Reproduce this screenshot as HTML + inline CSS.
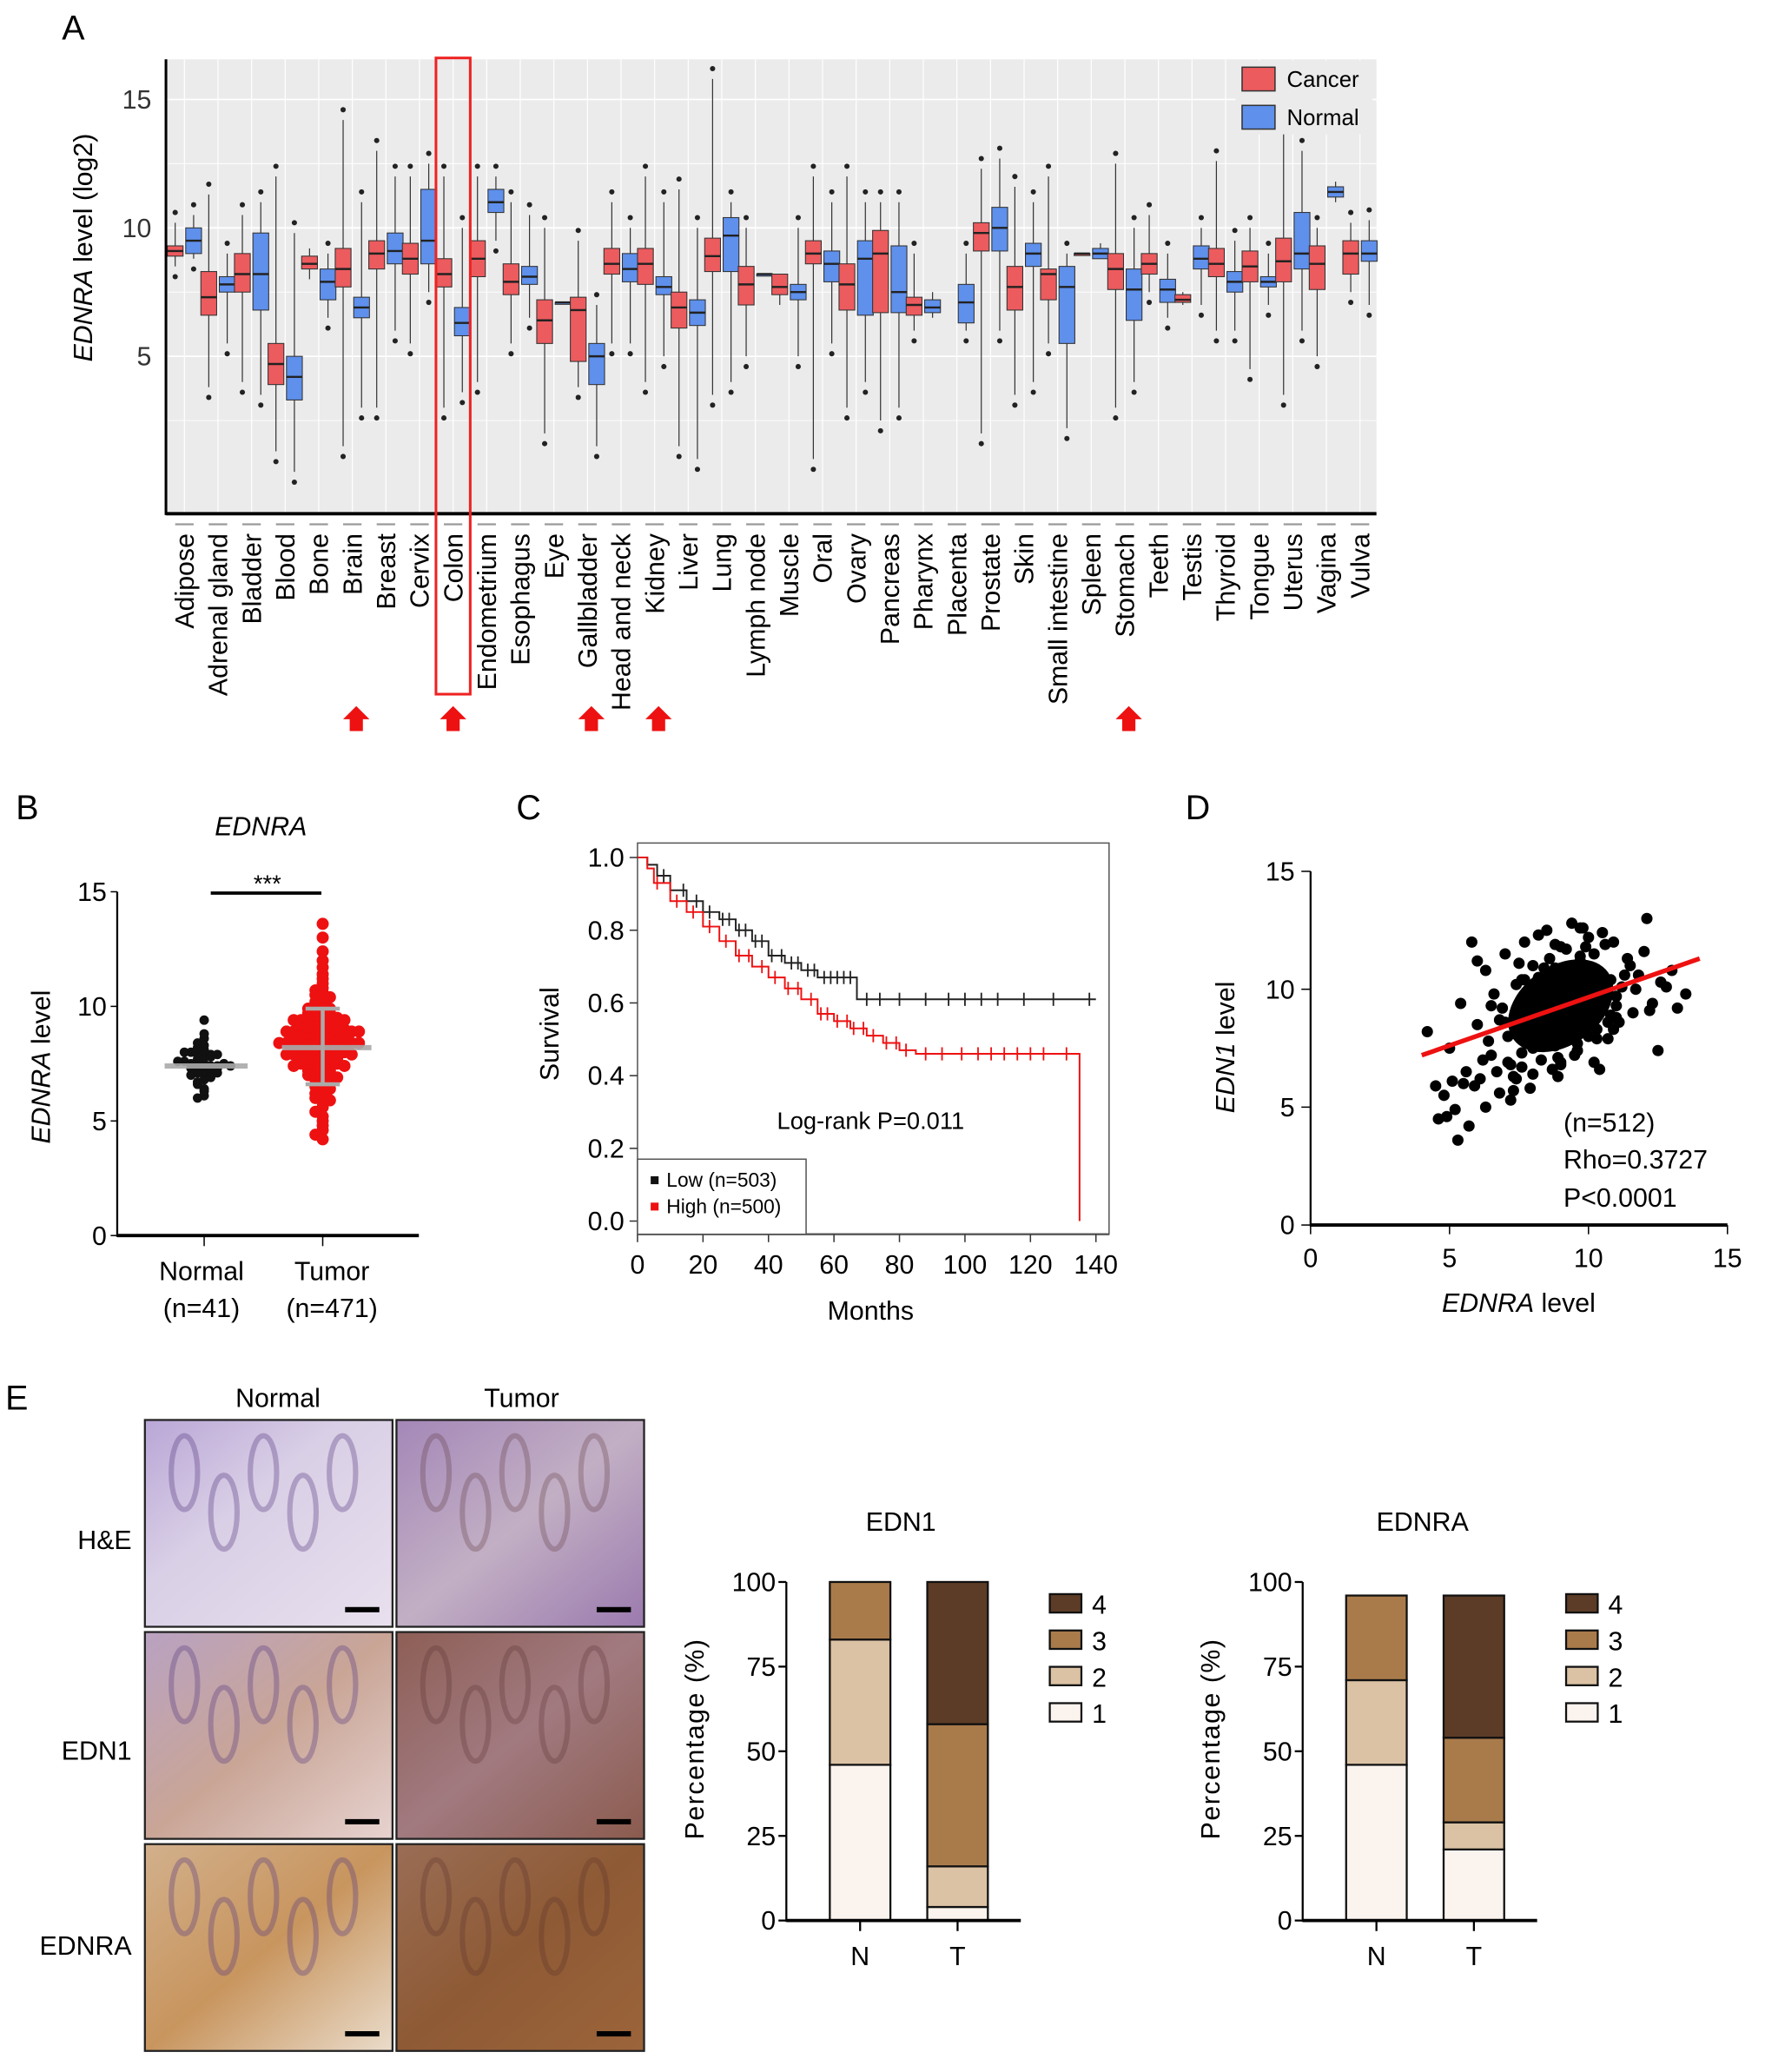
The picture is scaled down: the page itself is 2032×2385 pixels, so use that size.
<!DOCTYPE html>
<html><head><meta charset="utf-8"><style>
html,body{margin:0;padding:0;background:#fff}
svg{display:block}
text{font-family:"Liberation Sans",sans-serif}
</style></head><body>
<svg id="fig" width="2032" height="2385" viewBox="0 0 1340 1573" preserveAspectRatio="none" xmlns="http://www.w3.org/2000/svg">
<defs>
<linearGradient id="he1" x1="0" y1="0" x2="1" y2="1"><stop offset="0" stop-color="#b9a6d6"/><stop offset="0.4" stop-color="#d9cfe6"/><stop offset="1" stop-color="#e8e0ee"/></linearGradient>
<linearGradient id="he2" x1="0" y1="0" x2="1" y2="1"><stop offset="0" stop-color="#a487b8"/><stop offset="0.5" stop-color="#c2afc4"/><stop offset="1" stop-color="#9b7aae"/></linearGradient>
<linearGradient id="e11" x1="0" y1="0" x2="1" y2="1"><stop offset="0" stop-color="#b9a2c2"/><stop offset="0.5" stop-color="#c9a596"/><stop offset="1" stop-color="#e7d3d0"/></linearGradient>
<linearGradient id="e12" x1="0" y1="0" x2="1" y2="1"><stop offset="0" stop-color="#8d5e55"/><stop offset="0.5" stop-color="#a17a80"/><stop offset="1" stop-color="#8b5b4e"/></linearGradient>
<linearGradient id="ea1" x1="0" y1="0" x2="1" y2="1"><stop offset="0" stop-color="#d2b08c"/><stop offset="0.5" stop-color="#c8955e"/><stop offset="1" stop-color="#eadccb"/></linearGradient>
<linearGradient id="ea2" x1="0" y1="0" x2="1" y2="1"><stop offset="0" stop-color="#9a6d55"/><stop offset="0.5" stop-color="#8e5a35"/><stop offset="1" stop-color="#9c643a"/></linearGradient>
</defs>
<g id="A"></g><g id="B"></g><g id="C"></g><g id="D"></g><g id="E"></g>
</svg>
<script>
// ---------- Panel A data ----------
const tissues=["Adipose","Adrenal gland","Bladder","Blood","Bone","Brain","Breast","Cervix","Colon","Endometrium","Esophagus","Eye","Gallbladder","Head and neck","Kidney","Liver","Lung","Lymph node","Muscle","Oral","Ovary","Pancreas","Pharynx","Placenta","Prostate","Skin","Small intestine","Spleen","Stomach","Teeth","Testis","Thyroid","Tongue","Uterus","Vagina","Vulva"];
// [lo, q1, median, q3, hi]
const cancerBox=[[8.5,8.9,9.1,9.3,10.2],[3.8,6.6,7.3,8.3,11.3],[4,7.5,8.2,9.0,10.5],[1.3,3.9,4.7,5.5,12],[8,8.4,8.6,8.9,9.2],[1.5,7.7,8.4,9.2,14.2],[3,8.4,9.0,9.5,13],[5.5,8.2,8.8,9.4,12],[3,7.7,8.2,8.8,12],[4,8.1,8.8,9.5,12],[5.5,7.4,7.9,8.6,11],[2,5.5,6.4,7.2,10],[3.8,4.8,6.8,7.3,9.5],[5.5,8.2,8.6,9.2,11],[4,7.8,8.6,9.2,12],[1.5,6.1,6.9,7.5,11.5],[3.5,8.3,8.9,9.6,15.8],[5,7.0,7.8,8.5,10],[7,7.4,7.7,8.2,8.2],[1,8.6,9.0,9.5,12],[3,6.8,7.8,8.6,12],[2.5,6.7,9.0,9.9,11],[6,6.6,7.0,7.3,9],null,[2,9.1,9.8,10.2,12.3],[3.5,6.8,7.7,8.5,11.6],[5.5,7.2,8.2,8.4,12],[9,9,9,9,9],[3,7.6,8.4,9.0,12.5],[7.5,8.2,8.6,9.0,10.5],[7,7.1,7.2,7.4,7.5],[6,8.1,8.6,9.2,12.6],[4.5,7.9,8.5,9.1,10],[3.5,7.9,8.7,9.6,13.8],[5,7.6,8.6,9.3,10],[7.5,8.2,9.0,9.5,10.2]];
const normalBox=[[8.8,9.0,9.5,10.0,10.5],[5.5,7.5,7.8,8.1,9],[3.5,6.8,8.2,9.8,11],[0.5,3.3,4.2,5.0,9.8],[6.5,7.2,7.9,8.4,9],[3,6.5,6.9,7.3,11],[6,8.6,9.1,9.8,12],[7.5,8.6,9.5,11.5,12.5],[3.6,5.8,6.3,6.9,10],[9.5,10.6,11.0,11.5,12],[6.5,7.8,8.1,8.5,10.5],[7.1,7.1,7.1,7.1,7.1],[1.5,3.9,5.0,5.5,7],[5.5,7.9,8.4,9.0,10],[5,7.4,7.7,8.1,11],[1,6.2,6.7,7.2,10],[4,8.3,9.7,10.4,11],[8.2,8.2,8.2,8.2,8.2],[5,7.2,7.5,7.8,10],[5.5,7.9,8.6,9.1,11],[4,6.6,8.8,9.5,11],[3,6.7,7.5,9.3,11],[6.5,6.7,6.9,7.2,7.5],[6,6.3,7.1,7.8,9],[6,9.1,10.0,10.8,12.7],[4,8.5,9.0,9.4,11],[2.2,5.5,7.7,8.5,9],[8.8,8.8,9.0,9.2,9.4],[4,6.4,7.6,8.4,10],[6.5,7.1,7.6,8.0,9],[7,8.4,8.8,9.3,10],[6,7.5,7.9,8.3,9.5],[7,7.7,7.9,8.1,9],[6,8.4,9.0,10.6,13],[11,11.2,11.4,11.6,11.8],[7,8.7,9.0,9.5,10.3]];
const yTicksA=[5,10,15];
const highlightTissues=["Brain","Colon","Gallbladder","Kidney","Stomach"];

// ---------- Panel B data ----------
const normalVals=[7.5,7.2,7.8,6.1,6.4,8.1,7.0,7.6,7.9,7.3,7.4,9.4,8.6,6.8,7.1,7.7,8.3,6.0,6.6,7.2,7.5,7.9,8.0,7.4,7.3,6.9,7.6,8.2,8.8,7.0,6.3,7.8,7.5,7.1,7.6,8.4,6.7,7.3,7.9,7.4,8.0];
const tumorVals=[13.6,13.0,12.4,12.0,11.7,11.4,11.2,11.0,10.8,10.7,10.6,10.5,10.4,10.3,10.2,10.1,10.0,9.9,9.9,9.8,9.8,9.7,9.7,9.6,9.6,9.5,9.5,9.5,9.4,9.4,9.4,9.3,9.3,9.3,9.2,9.2,9.2,9.1,9.1,9.1,9.0,9.0,9.0,9.0,8.9,8.9,8.9,8.9,8.8,8.8,8.8,8.8,8.7,8.7,8.7,8.7,8.6,8.6,8.6,8.6,8.5,8.5,8.5,8.5,8.4,8.4,8.4,8.4,8.3,8.3,8.3,8.3,8.2,8.2,8.2,8.2,8.1,8.1,8.1,8.0,8.0,8.0,8.0,7.9,7.9,7.9,7.8,7.8,7.8,7.7,7.7,7.7,7.6,7.6,7.6,7.5,7.5,7.5,7.4,7.4,7.3,7.3,7.2,7.2,7.1,7.1,7.0,7.0,6.9,6.8,6.8,6.7,6.6,6.5,6.4,6.3,6.2,6.1,6.0,5.9,5.8,5.6,5.4,5.2,5.0,4.8,4.6,4.4,4.2];
const yTicksB=[0,5,10,15];

// ---------- Panel C data ----------
const lowT=[0,3,6,10,15,20,25,30,35,40,45,50,55,67,140];
const lowS=[1,0.98,0.95,0.91,0.88,0.85,0.83,0.80,0.77,0.73,0.71,0.69,0.67,0.61,0.61];
const highT=[0,3,5,10,15,20,25,30,35,40,45,50,55,60,65,70,75,80,85,135];
const highS=[1,0.97,0.93,0.88,0.85,0.81,0.77,0.73,0.70,0.67,0.64,0.61,0.57,0.55,0.53,0.51,0.49,0.47,0.46,0.46];
const lowCensor=[8,14,18,22,26,28,31,33,36,38,41,44,47,49,52,54,57,59,61,63,65,70,74,80,88,95,100,105,110,118,127,138];
const highCensor=[6,12,17,22,27,31,34,38,42,46,49,53,56,58,61,64,66,69,72,76,79,82,88,93,99,104,108,112,116,120,124,131];
const xTicksC=[0,20,40,60,80,100,120,140];
const yTicksC=[0,0.2,0.4,0.6,0.8,1.0];

// ---------- Panel D data ----------
const scatX=[4.2,4.5,4.8,5.0,5.2,5.4,5.6,5.8,6.0,6.1,6.3,6.5,6.6,6.8,7.0,7.1,7.2,7.4,7.5,7.6,7.7,7.8,7.9,8.0,8.1,8.2,8.3,8.4,8.5,8.6,8.7,8.8,8.9,9.0,9.1,9.2,9.3,9.4,9.5,9.6,9.7,9.8,9.9,10.0,10.1,10.2,10.3,10.4,10.5,10.6,10.7,10.8,10.9,11.0,11.2,11.4,11.6,11.8,12.0,12.3,12.6,13.0,13.5,6.2,6.9,7.3,7.6,7.9,8.2,8.5,8.8,9.1,9.4,9.7,10.0,10.3,10.6,11.0,11.5,7.0,7.5,8.0,8.5,9.0,9.5,10.0,10.5,11.0,8.3,8.7,9.2,9.6,10.2,7.8,8.9,9.9,10.8,5.5,6.4,7.2,8.1,9.3,10.4,11.3,12.2,8.4,9.0,9.8,6.8,7.4,8.6,9.5,10.1,10.9,4.9,5.7,12.8,13.2,7.7,8.0,8.8,9.2,9.6,10.0,10.7,5.1,5.9,6.7,7.3,8.1,12.5,11.7,6.0,6.5,7.1,5.3,4.6,6.3,7.6,8.9,10.2,11.1,12.1,9.7,8.2];
const scatY=[8.2,5.9,5.5,7.5,4.9,9.4,6.5,12.0,8.5,6.2,10.8,7.2,9.8,5.6,11.5,8.0,6.8,10.2,8.8,7.3,12.0,9.1,5.8,11.0,8.4,10.5,7.0,9.6,12.5,8.1,6.6,10.9,9.3,11.8,7.8,10.0,8.7,12.8,9.5,7.4,11.2,10.3,8.9,12.2,9.9,11.5,8.3,10.7,9.2,11.9,8.6,10.4,12.0,9.7,10.1,11.3,9.0,10.6,11.6,9.4,10.3,10.8,9.8,7.0,9.2,6.3,10.4,8.5,12.3,9.0,7.6,10.9,8.2,11.4,9.5,7.9,10.0,8.8,11.0,8.6,11.1,7.5,9.9,6.9,10.5,8.0,12.4,9.3,10.2,8.4,11.7,7.7,9.6,9.8,7.1,11.8,8.9,6.0,7.8,5.3,9.7,8.1,6.6,10.6,9.1,10.9,6.8,12.6,8.7,6.2,11.3,7.2,9.4,8.3,4.6,4.2,10.1,9.2,10.4,6.4,11.9,9.0,7.4,8.5,7.9,6.1,5.9,6.5,5.7,10.1,7.4,10.0,11.2,9.3,6.9,3.6,4.5,5.0,6.7,6.3,6.9,8.6,13.0,12.6];
const xTicksD=[0,5,10,15];
const yTicksD=[0,5,10,15];
const regStart=[4,7.2], regEnd=[14,11.3];

// ---------- Panel E data ----------
const scoreLevels=["1","2","3","4"];
const edn1N=[46,37,17,0], edn1T=[4,12,42,42];
const ednraN=[46,25,25,0], ednraT=[21,8,25,42];
const yTicksE=[0,25,50,75,100];
const scoreColors=["#fbf3ee","#dcc2a4","#a97b4b","#5c3c26"];

const NS="http://www.w3.org/2000/svg";
function el(parent,tag,attrs,txt){const e=document.createElementNS(NS,tag);for(const k in attrs)e.setAttribute(k,attrs[k]);if(txt!==undefined)e.textContent=txt;parent.appendChild(e);return e;}

// ================= Panel A =================
const A=document.getElementById('A');
const aX0=126,aX1=1045,aY0=45,aY1=390;
const ayA=v=>173-(v-10)*19.5;
const cxA=i=>140+i*25.5;
let t=el(A,'text',{x:47,y:30,'font-size':26});t.textContent='A';

let bg=el(A,'rect',{x:aX0,y:aY0,width:aX1-aX0,height:aY1-aY0,fill:'#ebebeb'});

for(let v=2.5;v<=16;v+=2.5){el(A,'line',{x1:aX0,x2:aX1,y1:ayA(v),y2:ayA(v),stroke:'#fff','stroke-width':v%5===0?1.2:0.6});}
tissues.forEach((n,i)=>{el(A,'line',{x1:cxA(i),x2:cxA(i),y1:aY0,y2:aY1,stroke:'#fff','stroke-width':0.8});});
yTicksA.forEach(v=>{const tt=el(A,'text',{x:115,y:ayA(v)+7,'font-size':20,'text-anchor':'end',fill:'#333'},String(v));
});
let yl=el(A,'text',{transform:'translate(70,188) rotate(-90)','font-size':20,'text-anchor':'middle'});
yl.innerHTML='<tspan font-style="italic">EDNRA</tspan> level (log2)';

function drawBox(g,b,cx,col,name){
  if(!b)return;
  const grp=el(g,'g',{});
  
  
  el(grp,'line',{x1:cx,x2:cx,y1:ayA(b[4]),y2:ayA(b[0]),stroke:'#333','stroke-width':0.8});
  const h=Math.max(ayA(b[1])-ayA(b[3]),1.5);
  el(grp,'rect',{x:cx-6,y:ayA(b[3]),width:12,height:h,fill:col,stroke:'#333','stroke-width':0.7});
  el(grp,'line',{x1:cx-6,x2:cx+6,y1:ayA(b[2]),y2:ayA(b[2]),stroke:'#222','stroke-width':1.6});
  [b[0]-0.4,b[4]+0.4].forEach(v=>{if(b[4]-b[0]>1.5){el(grp,'circle',{cx:cx,cy:ayA(v),r:2,fill:'#222'});}});
}
tissues.forEach((n,i)=>{
  drawBox(A,cancerBox[i],cxA(i)-7,'#ec5b5e','cancer-box-'+n.toLowerCase().replace(/ /g,'-'));
  drawBox(A,normalBox[i],cxA(i)+7,'#5e90ec','normal-box-'+n.toLowerCase().replace(/ /g,'-'));
  el(A,'line',{x1:cxA(i)-7,x2:cxA(i)+7,y1:398,y2:398,stroke:'#999','stroke-width':1.5});
  const lt=el(A,'text',{transform:`translate(${cxA(i)+7},405) rotate(-90)`,'font-size':20,'text-anchor':'end'},n);
  
  
});
el(A,'line',{x1:aX0,x2:aX0,y1:aY0,y2:aY1+1,stroke:'#000','stroke-width':2});
el(A,'line',{x1:aX0,x2:aX1,y1:aY1,y2:aY1,stroke:'#000','stroke-width':2.5});
// legend
const lg=el(A,'g',{});

el(lg,'rect',{x:938,y:46,width:104,height:56,fill:'#ebebeb'});
el(lg,'rect',{x:943,y:51,width:25,height:18,fill:'#ec5b5e',stroke:'#333'});
el(lg,'rect',{x:943,y:80,width:25,height:18,fill:'#5e90ec',stroke:'#333'});
el(lg,'text',{x:977,y:66,'font-size':17},'Cancer');
el(lg,'text',{x:977,y:95,'font-size':17},'Normal');
// colon highlight
const ci=tissues.indexOf('Colon');
let hr=el(A,'rect',{x:cxA(ci)-13,y:44,width:26,height:483,fill:'none',stroke:'#ee2222','stroke-width':2});

highlightTissues.forEach(n=>{const i=tissues.indexOf(n);const x=cxA(i)+(n==='Colon'?0:3);
  const ar=el(A,'polygon',{points:`${x},536 ${x+10},546 ${x+5},546 ${x+5},555 ${x-5},555 ${x-5},546 ${x-10},546`,fill:'#ee1111'});
  });

// ================= Panel B =================
const B=document.getElementById('B');
const byB=v=>938-v*17.4;
t=el(B,'text',{x:12,y:622,'font-size':26},'B');
t=el(B,'text',{x:198,y:634,'font-size':20,'font-style':'italic','text-anchor':'middle'},'EDNRA');
el(B,'line',{x1:89,x2:89,y1:byB(15),y2:939,stroke:'#000','stroke-width':1.5});
el(B,'line',{x1:89,x2:318,y1:938,y2:938,stroke:'#000','stroke-width':2.5});
yTicksB.forEach(v=>{el(B,'line',{x1:84,x2:89,y1:byB(v),y2:byB(v),stroke:'#000'});
 const tt=el(B,'text',{x:81,y:byB(v)+7,'font-size':20,'text-anchor':'end'},String(v));});
[155,245].forEach(x=>el(B,'line',{x1:x,x2:x,y1:938,y2:946,stroke:'#000'}));
t=el(B,'text',{transform:'translate(38,810) rotate(-90)','font-size':20,'text-anchor':'middle'});t.innerHTML='<tspan font-style="italic">EDNRA</tspan> level';

function swarm(vals,cx,col,name,step,r){
  const bins={};const g=el(B,'g',{});
  
  vals.forEach(v=>{const k=Math.round(v*4);bins[k]=(bins[k]||0)+1;const n=bins[k]-1;
   const off=(n%2===0?1:-1)*Math.ceil(n/2)*step;
   el(g,'circle',{cx:cx+off,cy:byB(v),r:r,fill:col});});
}
swarm(normalVals,155,'#111','normal-points',5,3.6);
swarm(tumorVals,245,'#ee1111','tumor-points',5.5,4.6);
el(B,'line',{x1:125,x2:188,y1:byB(7.4),y2:byB(7.4),stroke:'#aaa','stroke-width':4,opacity:0.9});
el(B,'line',{x1:214,x2:282,y1:byB(8.2),y2:byB(8.2),stroke:'#aaa','stroke-width':4,opacity:0.9});
el(B,'line',{x1:245,x2:245,y1:byB(9.9),y2:byB(6.6),stroke:'#aaa','stroke-width':3});
[9.9,6.6].forEach(v=>el(B,'line',{x1:232,x2:258,y1:byB(v),y2:byB(v),stroke:'#aaa','stroke-width':3}));
el(B,'line',{x1:160,x2:244,y1:678,y2:678,stroke:'#000','stroke-width':2.5});
t=el(B,'text',{x:203,y:677,'font-size':18,'text-anchor':'middle'},'***');
[['Normal',153,972],['(n=41)',153,1000],['Tumor',252,972],['(n=471)',252,1000]].forEach(a=>{const tt=el(B,'text',{x:a[1],y:a[2],'font-size':20,'text-anchor':'middle'},a[0]);});

// ================= Panel C =================
const C=document.getElementById('C');
const cxC=m=>484+m*2.486, cyC=s=>927-s*276;
t=el(C,'text',{x:392,y:622,'font-size':26},'C');
el(C,'rect',{x:484,y:640,width:358,height:297,fill:'none',stroke:'#555','stroke-width':1});
el(C,'line',{x1:484,x2:842,y1:937,y2:937,stroke:'#555','stroke-width':1.5});
xTicksC.forEach(v=>{el(C,'line',{x1:cxC(v),x2:cxC(v),y1:937,y2:943,stroke:'#333'});
 const tt=el(C,'text',{x:cxC(v),y:967,'font-size':20,'text-anchor':'middle'},String(v));});
yTicksC.forEach(v=>{el(C,'line',{x1:478,x2:484,y1:cyC(v),y2:cyC(v),stroke:'#333'});
 const tt=el(C,'text',{x:474,y:cyC(v)+7,'font-size':20,'text-anchor':'end'},v.toFixed(1));});
t=el(C,'text',{transform:'translate(424,785) rotate(-90)','font-size':20,'text-anchor':'middle'},'Survival');
t=el(C,'text',{x:661,y:1002,'font-size':20,'text-anchor':'middle'},'Months');
function km(T,S,cens,col,name,dropEnd){
  let d=`M${cxC(T[0])},${cyC(S[0])}`;
  for(let i=1;i<T.length;i++){d+=` H${cxC(T[i])} V${cyC(S[i])}`;}
  if(dropEnd)d+=` V${cyC(0)}`;
  const p=el(C,'path',{d:d,fill:'none',stroke:col,'stroke-width':1.3});
  
  cens.forEach(m=>{let s=S[0];for(let i=0;i<T.length;i++){if(T[i]<=m)s=S[i];}
    el(C,'line',{x1:cxC(m),x2:cxC(m),y1:cyC(s)-5,y2:cyC(s)+5,stroke:col,'stroke-width':1.2});});
}
km(lowT,lowS,lowCensor,'#222','low-survival-curve',false);
km(highT,highS,highCensor,'#ee1111','high-survival-curve',true);
t=el(C,'text',{x:661,y:857,'font-size':18,'text-anchor':'middle'},'Log-rank P=0.011');
const lgc=el(C,'g',{});
el(lgc,'rect',{x:484,y:880,width:128,height:57,fill:'#fff',stroke:'#555'});
el(lgc,'rect',{x:494,y:893,width:6,height:6,fill:'#111'});
el(lgc,'rect',{x:494,y:913,width:6,height:6,fill:'#ee1111'});
el(lgc,'text',{x:506,y:901,'font-size':15},'Low (n=503)');
el(lgc,'text',{x:506,y:921,'font-size':15},'High (n=500)');

// ================= Panel D =================
const D=document.getElementById('D');
const dx=v=>995+v*21.1, dy=v=>930-v*17.9;
t=el(D,'text',{x:900,y:622,'font-size':26},'D');
el(D,'line',{x1:995,x2:995,y1:dy(15),y2:931,stroke:'#000','stroke-width':1.5});
el(D,'line',{x1:995,x2:dx(15),y1:930,y2:930,stroke:'#000','stroke-width':2.5});
xTicksD.forEach(v=>{el(D,'line',{x1:dx(v),x2:dx(v),y1:930,y2:937,stroke:'#000'});
 const tt=el(D,'text',{x:dx(v),y:962,'font-size':20,'text-anchor':'middle'},String(v));});
yTicksD.forEach(v=>{el(D,'line',{x1:988,x2:995,y1:dy(v),y2:dy(v),stroke:'#000'});
 const tt=el(D,'text',{x:983,y:dy(v)+7,'font-size':20,'text-anchor':'end'},String(v));});
t=el(D,'text',{transform:'translate(937,795) rotate(-90)','font-size':20,'text-anchor':'middle'});t.innerHTML='<tspan font-style="italic">EDN1</tspan> level';

t=el(D,'text',{x:1153,y:996,'font-size':20,'text-anchor':'middle'});t.innerHTML='<tspan font-style="italic">EDNRA</tspan> level';

const sg=el(D,'g',{});
el(sg,'ellipse',{cx:dx(9.0),cy:dy(9.3),rx:44,ry:30,fill:'#000',transform:`rotate(-35 ${dx(9.0)} ${dy(9.3)})`});
const nPts=Math.min(scatX.length,scatY.length);
for(let i=0;i<nPts;i++){el(sg,'circle',{cx:dx(scatX[i]),cy:dy(scatY[i]),r:4.3,fill:'#000'});}
const rl=el(D,'line',{x1:dx(regStart[0]),y1:dy(regStart[1]),x2:dx(regEnd[0]),y2:dy(regEnd[1]),stroke:'#ee1111','stroke-width':3.5});

[['(n=512)',859],['Rho=0.3727',887],['P<0.0001',916]].forEach(a=>{const tt=el(D,'text',{x:1187,y:a[1],'font-size':20},a[0]);});

// ================= Panel E =================
const E=document.getElementById('E');
t=el(E,'text',{x:4,y:1070,'font-size':26},'E');
[['Normal',211],['Tumor',396]].forEach(a=>{const tt=el(E,'text',{x:a[1],y:1068,'font-size':20,'text-anchor':'middle'},a[0]);});
const rows=[['H&E',1078,'he',1176],['EDN1',1239,'e1',1336],['EDNRA',1400,'ea',1484]];
rows.forEach(r=>{
  const tt=el(E,'text',{x:100,y:r[3],'font-size':20,'text-anchor':'end'},r[0]);
  [[110,'1'],[301,'2']].forEach(c=>{
    const im=el(E,'rect',{x:c[0],y:r[1],width:188,height:157,fill:`url(#${r[2]}${c[1]})`,stroke:'#222','stroke-width':1.5});
    
    for(let k=0;k<5;k++){el(E,'ellipse',{cx:c[0]+30+k*30,cy:r[1]+40+(k%2)*30,rx:10,ry:28,fill:'none',stroke:c[1]==='1'?'rgba(90,60,130,0.35)':'rgba(80,40,40,0.25)','stroke-width':4});}
    el(E,'rect',{x:c[0]+152,y:r[1]+142,width:26,height:4,fill:'#000'});
  });
});
function stacked(ax0,NN,TT,title,titleX,nameP){
  const yE=v=>1458-v*2.57;
  const g=el(E,'g',{});
  const tt=el(g,'text',{x:titleX,y:1162,'font-size':20,'text-anchor':'middle'},title);
  [[NN,ax0+33,'N'],[TT,ax0+107,'T']].forEach(b=>{
    let cum=0;
    b[0].forEach((v,k)=>{if(v<=0)return;
      const r=el(g,'rect',{x:b[1],y:yE(cum+v),width:46,height:v*2.57,fill:scoreColors[k],stroke:'#111','stroke-width':1.5});
      
      
      cum+=v;});
    el(g,'line',{x1:b[1]+23,x2:b[1]+23,y1:1458,y2:1466,stroke:'#000','stroke-width':1.5});
    const lt=el(g,'text',{x:b[1]+23,y:1492,'font-size':20,'text-anchor':'middle'},b[2]);
  });
  el(g,'line',{x1:ax0,x2:ax0,y1:yE(100),y2:1459,stroke:'#000','stroke-width':1.5});
  el(g,'line',{x1:ax0,x2:ax0+178,y1:1458,y2:1458,stroke:'#000','stroke-width':2.5});
  yTicksE.forEach(v=>{el(g,'line',{x1:ax0-6,x2:ax0,y1:yE(v),y2:yE(v),stroke:'#000','stroke-width':1.5});
    const l=el(g,'text',{x:ax0-8,y:yE(v)+7,'font-size':20,'text-anchor':'end'},String(v));});
  const yt=el(g,'text',{transform:`translate(${ax0-63},1320) rotate(-90)`,'font-size':20,'text-anchor':'middle','letter-spacing':'1'},'Percentage (%)');
  
  scoreLevels.forEach((s,k)=>{const yy=1301-k*27.6;
    el(g,'rect',{x:ax0+200,y:yy-8,width:24,height:14,fill:scoreColors[k],stroke:'#111','stroke-width':1.5});
    const l=el(g,'text',{x:ax0+232,y:yy+7,'font-size':20},s);});
}
stacked(597,edn1N,edn1T,'EDN1',684,'edn1');
stacked(989,ednraN,ednraT,'EDNRA',1080,'ednra');
</script>
</body></html>
